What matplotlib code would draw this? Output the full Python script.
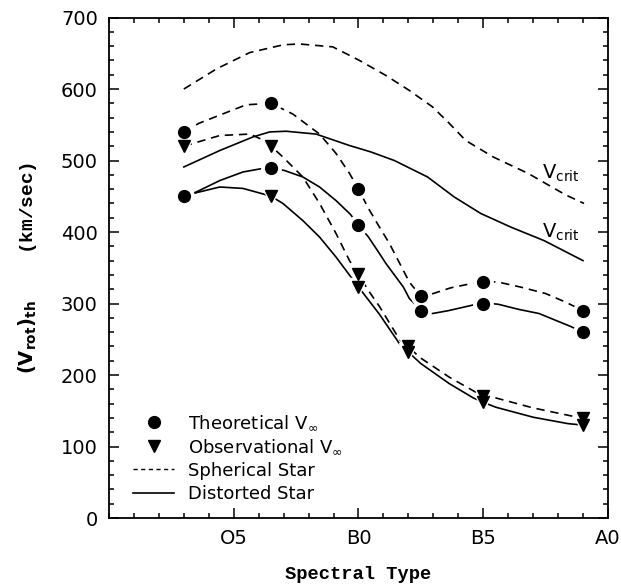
import matplotlib
matplotlib.use("Agg")
import matplotlib.pyplot as plt
from matplotlib.lines import Line2D

plt.rcParams['font.family'] = 'DejaVu Sans'
plt.rcParams['mathtext.fontset'] = 'dejavusans'

# Spectral subclass on a running scale: O0 = 0, O5 = 5, B0 = 10, B5 = 15, A0 = 20
tick_pos = [5, 10, 15, 20]
tick_labels = ['O5', 'B0', 'B5', 'A0']

# Marker values (km/sec)
theo_x = [3, 6.5, 10, 12.5, 15, 19]
theo_sph = [540, 580, 460, 310, 330, 290]
theo_dis = [450, 490, 410, 290, 300, 260]

obs_x = [3, 6.5, 10, 12, 15, 19]
obs_sph = [520, 520, 341, 240, 170, 140]
obs_dis = [450, 450, 323, 232, 162, 130]

# Curves
sph_theo_cx = [3, 3.6, 4.4, 5.5, 6.5, 7.37, 8.44, 9.1, 9.64, 10, 10.4, 10.84,
               11.24, 12.04, 12.5, 13, 13.7, 14.4, 15, 15.6, 16.5, 17.5, 18.3, 19]
sph_theo_cy = [540, 552, 563, 578, 580, 565, 537, 510, 482, 460, 433, 407,
               384, 330, 310, 314, 322, 327, 331, 330, 323, 314, 302, 290]

dis_theo_cx = [3, 3.5, 4.44, 5.37, 6.17, 6.5, 7.04, 7.77, 8.44, 9.1, 9.67, 10,
               10.4, 10.84, 11.1, 11.8, 12.04, 12.5, 12.96, 13.6, 14.6, 15, 15.6,
               16.4, 17.24, 18.5, 19]
dis_theo_cy = [450, 456, 472, 484, 489, 490, 486, 477, 463, 444, 425, 410,
               393, 370, 356, 323, 307, 291, 286, 290, 298, 301, 299,
               292, 286, 268, 260]

sph_obs_cx = [3, 3.57, 4.44, 5.64, 6.1, 6.5, 6.97, 7.77, 8.44, 9.1, 9.64, 10,
              10.4, 10.84, 11.64, 12, 12.44, 13.64, 14.7, 15, 15.5, 17, 18.5, 19]
sph_obs_cy = [520, 526, 535, 537, 530, 520, 505, 477, 440, 398, 360, 341,
              318, 296, 250, 240, 225, 197, 176, 172, 168, 154, 143, 140]

dis_obs_cx = [3, 3.5, 4.44, 5.37, 6.1, 6.5, 6.97, 7.77, 8.44, 9.1, 9.7, 10,
              10.4, 10.84, 11.64, 12, 12.5, 13.64, 14.6, 15, 15.5, 17, 18.4, 19]
dis_obs_cy = [450, 455, 463, 461, 454, 450, 440, 416, 393, 365, 337, 323,
              305, 285, 244, 232, 216, 188, 168, 162, 155, 141, 132, 130]

sph_crit_cx = [3, 4.3, 5.64, 7, 7.64, 8.97, 10.04, 11.1, 12.04, 12.97, 13.64,
               14.3, 15.4, 16.8, 18.3, 19.04]
sph_crit_cy = [600, 628, 651, 662, 663, 659, 640, 619, 598, 575, 552,
               528, 505, 482, 452, 440]

dis_crit_cx = [3, 4.44, 5.77, 6.44, 7.1, 8.3, 9.64, 10.5, 11.44, 12.77, 13.84,
               14.9, 16.1, 17.44, 19]
dis_crit_cy = [491, 514, 533, 540, 541, 537, 521, 512, 500, 477, 449,
               426, 407, 388, 360]

fig = plt.figure(figsize=(6.21, 5.85), dpi=100)
ax = fig.add_axes([0.1755, 0.1145, 0.8035, 0.8555])

dash = (0, (5, 3.5))
lw = 1.2
ax.plot(sph_crit_cx, sph_crit_cy, color='black', lw=lw, linestyle=dash)
ax.plot(dis_crit_cx, dis_crit_cy, color='black', lw=lw)
ax.plot(sph_theo_cx, sph_theo_cy, color='black', lw=lw, linestyle=dash)
ax.plot(dis_theo_cx, dis_theo_cy, color='black', lw=lw)
ax.plot(sph_obs_cx, sph_obs_cy, color='black', lw=lw, linestyle=dash)
ax.plot(dis_obs_cx, dis_obs_cy, color='black', lw=lw)

# white halos so the curves stop short of the markers
for xs, ys, m, s in [(theo_x, theo_sph, 'o', 14), (theo_x, theo_dis, 'o', 14),
                     (obs_x, obs_sph, 'v', 13), (obs_x[1:], obs_dis[1:], 'v', 13)]:
    ax.plot(xs, ys, linestyle='none', marker=m, markersize=s,
            color='white', zorder=3)
for xs, ys, m, s in [(theo_x, theo_sph, 'o', 8.5), (theo_x, theo_dis, 'o', 8.5),
                     (obs_x, obs_sph, 'v', 8.5), (obs_x[1:], obs_dis[1:], 'v', 8.5)]:
    ax.plot(xs, ys, linestyle='none', marker=m, markersize=s,
            color='black', zorder=4)

ax.text(17.35, 482, r'V$_{\mathrm{crit}}$', fontsize=14, va='center', ha='left')
ax.text(17.35, 400, r'V$_{\mathrm{crit}}$', fontsize=14, va='center', ha='left')

ax.set_xlim(0, 20)
ax.set_ylim(0, 700)
ax.set_xticks(tick_pos)
ax.set_xticklabels(tick_labels)
ax.set_xticks(range(0, 21), minor=True)
ax.set_yticks(range(0, 701, 100))
ax.set_yticks(range(0, 701, 20), minor=True)
ax.tick_params(which='both', direction='in', top=True, right=True,
               labelsize=14, width=1.1)
ax.tick_params(which='major', length=7, pad=8)
ax.tick_params(which='minor', length=3.5)
for sp in ax.spines.values():
    sp.set_linewidth(1.3)

ax.set_xlabel('Spectral Type', family='Liberation Mono', weight='bold',
              fontsize=13.5, labelpad=13)
ax.set_ylabel(r'$\mathbf{(V_{rot})_{th}}$    (km/sec)', family='Liberation Mono',
              weight='bold', fontsize=14, labelpad=16)

handles = [Line2D([], [], linestyle='none', marker='o', markersize=8.5, color='black'),
           Line2D([], [], linestyle='none', marker='v', markersize=8, color='black'),
           Line2D([], [], linestyle=(0, (3, 2.5)), lw=1, color='black'),
           Line2D([], [], lw=1.2, color='black')]
labels = [r'Theoretical V$_{\infty}$', r'Observational V$_{\infty}$',
          'Spherical Star', 'Distorted Star']
ax.legend(handles, labels, loc='lower left', bbox_to_anchor=(0.048, 0.03),
          frameon=False, fontsize=13, handlelength=2.3, handletextpad=0.75,
          labelspacing=0.3, borderpad=0, borderaxespad=0)

fig.savefig('out.png', dpi=100)
